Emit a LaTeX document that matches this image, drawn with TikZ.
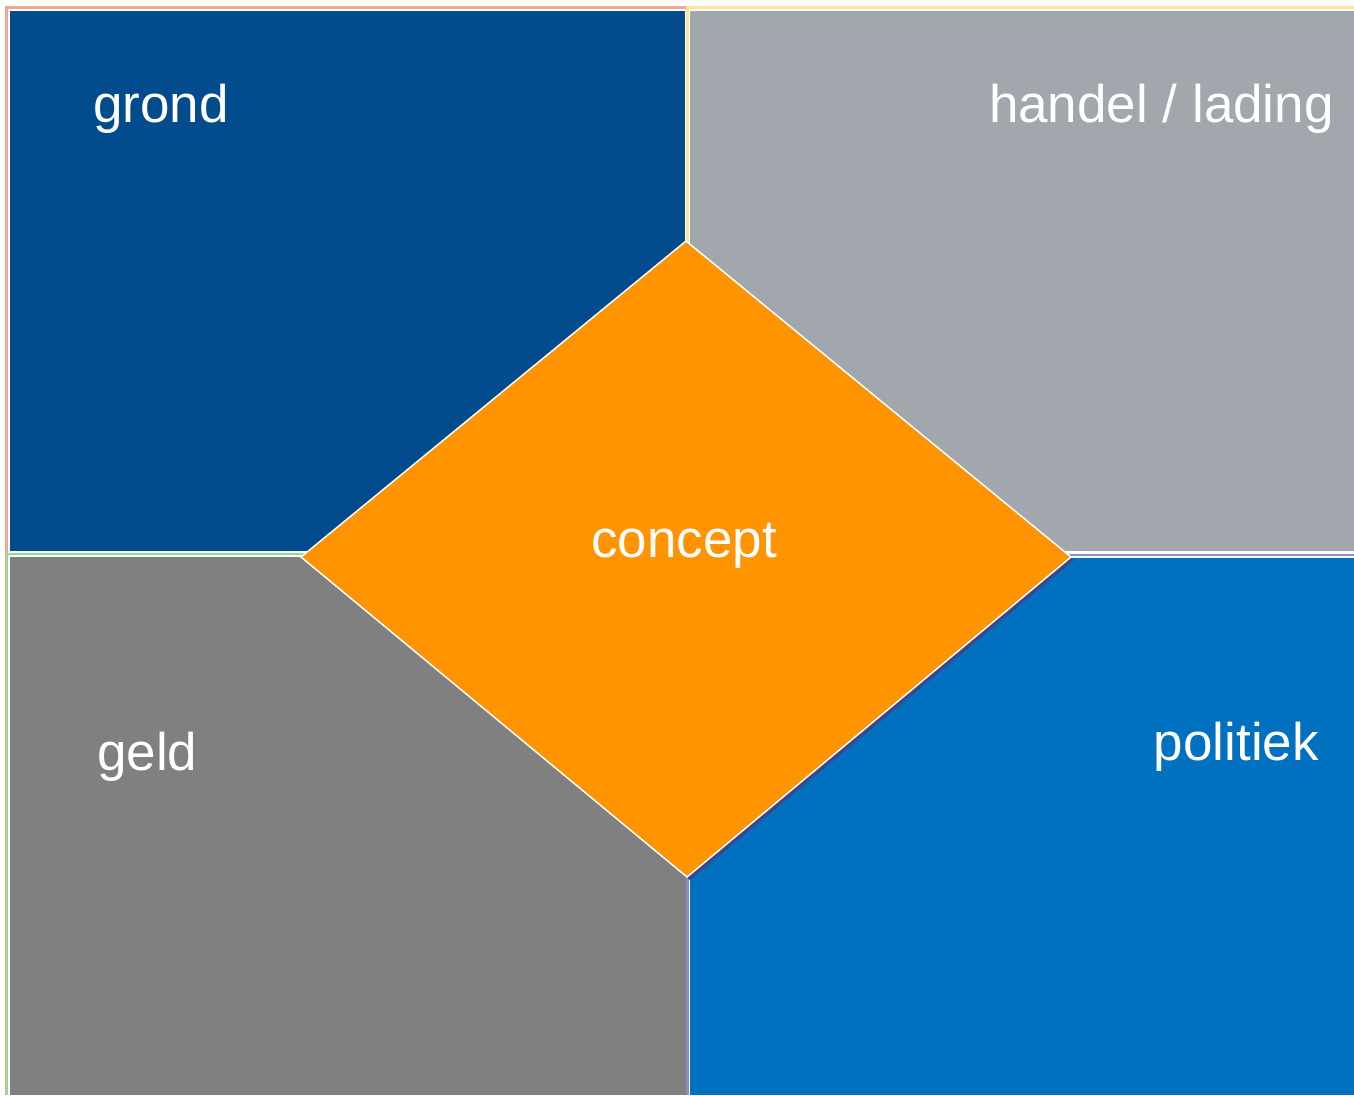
\documentclass[tikz,border=0pt]{standalone}
\usepackage{fontspec}
\setmainfont{Liberation Sans}
\definecolor{cTL}{RGB}{2,75,141}
\definecolor{cTR}{RGB}{162,166,173}
\definecolor{cBL}{RGB}{128,128,128}
\definecolor{cBR}{RGB}{0,112,192}
\definecolor{cOr}{RGB}{255,148,0}
\definecolor{oTL}{RGB}{238,168,145}
\definecolor{oTR}{RGB}{255,230,150}
\definecolor{oBL}{RGB}{140,225,140}
\definecolor{oBR}{RGB}{140,140,200}
\definecolor{cSh}{RGB}{60,70,140}
\begin{document}
\begin{tikzpicture}[x=1pt,y=-1pt,
  lbl/.style={text=white,font=\fontsize{53}{60}\selectfont,inner sep=0pt},
  outl/.style={line width=2.5pt}]
\useasboundingbox[fill=white] (0,0) rectangle (1354,1095);
% outlines
\draw[outl,oTL] (6.5,1095) -- (6.5,7.5) -- (686,7.5);
\draw[outl,oTR] (687.5,552) -- (687.5,7.5) -- (1354,7.5);
\draw[outl,oBL] (7,1095) -- (7,554) -- (686,554);
\draw[outl,oBR] (687.5,1095) -- (687.5,555) -- (1354,555);
% quadrants
\fill[cTL] (10,11) rectangle (685,551);
\fill[cTR] (690,11) rectangle (1354,551);
\fill[cBL] (10,557) rectangle (686,1095);
\fill[cBR] (690,558) rectangle (1354,1095);
% diamond
\fill[cSh] (689,244) -- (1074,560) -- (690,880) -- (304,560) -- cycle;
\filldraw[draw=white,line width=1.5pt,fill=cOr] (686,241) coordinate (t) -- (1071,557) coordinate (r) -- (687,877) coordinate (b) -- (301,557) coordinate (l) -- cycle;
% labels
\node[lbl,anchor=base west] (grond) at (93,122) {grond};
\node[lbl,anchor=base east] (handel) at (1334,122) {handel / lading};
\node[lbl,anchor=base] (concept) at (684,557) {concept};
\node[lbl,anchor=base west] (geld) at (97,770) {geld};
\node[lbl,anchor=base east] (politiek) at (1319,760) {politiek};
\end{tikzpicture}
\end{document}
